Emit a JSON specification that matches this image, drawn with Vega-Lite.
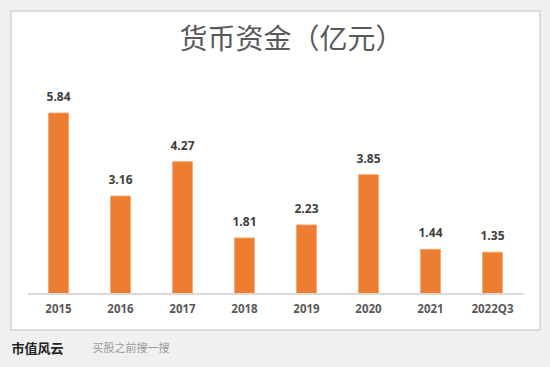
{
  "$schema": "https://vega.github.io/schema/vega-lite/v6.json",
  "width": 529,
  "height": 319,
  "autosize": {"type": "none"},
  "padding": {"left": 11, "top": 11, "right": 10, "bottom": 37},
  "background": "#f0f0f0",
  "title": {
    "text": "货币资金（亿元）",
    "font": "Noto Sans CJK SC",
    "fontSize": 28,
    "fontWeight": "normal",
    "color": "#595959",
    "anchor": "middle",
    "baseline": "middle",
    "offset": -27,
    "dx": 16,
    "dy": 31
  },
  "config": {
    "view": {"fill": "#ffffff", "stroke": "#d4d4d4", "strokeWidth": 1.5}
  },
  "data": {
    "values": [
      {"period": "2015", "value": 5.84},
      {"period": "2016", "value": 3.16},
      {"period": "2017", "value": 4.27},
      {"period": "2018", "value": 1.81},
      {"period": "2019", "value": 2.23},
      {"period": "2020", "value": 3.85},
      {"period": "2021", "value": 1.44},
      {"period": "2022Q3", "value": 1.35}
    ]
  },
  "encoding": {
    "x": {
      "field": "period",
      "type": "nominal",
      "sort": null,
      "scale": {"paddingInner": 0.677, "paddingOuter": 0.605},
      "axis": {
        "offset": -36,
        "domain": false,
        "ticks": false,
        "labelAngle": 0,
        "labelPadding": 9,
        "labelFont": "Open Sans",
        "labelFontSize": 11.5,
        "labelFontWeight": "bold",
        "labelColor": "#595959",
        "title": "市值风云",
        "titleFont": "Noto Sans CJK SC",
        "titleFontSize": 13,
        "titleFontWeight": "bold",
        "titleColor": "#222222",
        "titleAnchor": "start",
        "titleAlign": "left",
        "titleBaseline": "middle",
        "titleX": 0,
        "titleY": 54
      }
    },
    "y": {
      "field": "value",
      "type": "quantitative",
      "scale": {"domain": [-1.161, 9.129], "nice": false, "zero": false},
      "axis": {
        "domain": false,
        "ticks": false,
        "labels": false,
        "grid": false,
        "title": "买股之前搜一搜",
        "titleAngle": 0,
        "titleFont": "Noto Sans CJK SC",
        "titleFontSize": 11,
        "titleFontWeight": "normal",
        "titleColor": "#999999",
        "titleAlign": "left",
        "titleBaseline": "middle",
        "titleX": 81,
        "titleY": 337
      }
    }
  },
  "layer": [
    {
      "mark": {"type": "bar", "color": "#ED7D31", "stroke": "#f4a671", "strokeWidth": 0.8},
      "encoding": {"y2": {"datum": 0}}
    },
    {
      "mark": {
        "type": "text",
        "dy": -16,
        "baseline": "middle",
        "font": "Open Sans",
        "fontSize": 12,
        "fontWeight": "bold",
        "color": "#404040"
      },
      "encoding": {"text": {"field": "value", "type": "quantitative", "format": ".2f"}}
    },
    {
      "mark": {"type": "rule", "color": "#d9d9d9", "strokeWidth": 1.5},
      "encoding": {
        "x": {"datum": "2015", "bandPosition": -1.02},
        "x2": {"datum": "2022Q3", "bandPosition": 2.03},
        "y": {"datum": 0}
      }
    }
  ]
}
